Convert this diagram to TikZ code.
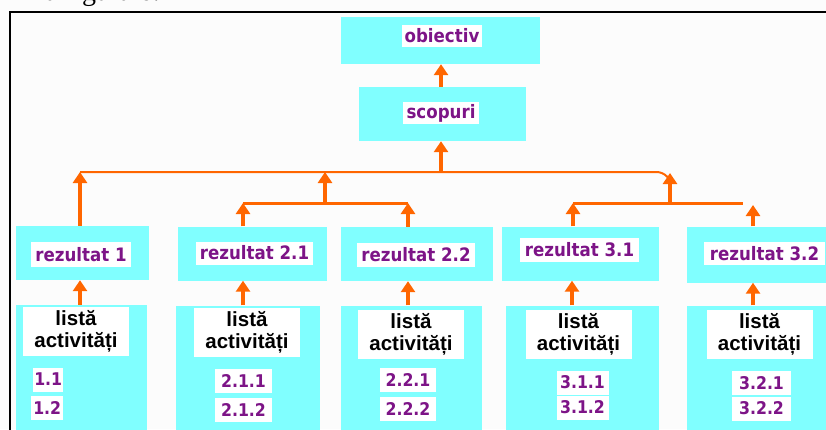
\documentclass[tikz,border=0pt]{standalone}
\usepackage{fontspec}
\setmainfont{Liberation Serif}
\newfontfamily\verd{DejaVu Sans}[FakeStretch=0.9]
\newfontfamily\arialb{Liberation Sans}
\usetikzlibrary{arrows.meta}

\definecolor{cyanfill}{RGB}{128,255,255}
\definecolor{labpurple}{RGB}{125,20,135}
\definecolor{arrorange}{RGB}{255,102,0}

\tikzset{
  cbox/.style={fill=cyanfill, draw=none, inner sep=0pt},
  plab/.style={fill=white, inner sep=0pt, text=labpurple,
               font=\verd\bfseries\fontsize{18.5}{20}\selectfont},
  numlab/.style={plab, minimum height=24pt, font=\verd\bfseries\fontsize{17.5}{19}\selectfont},
  listlab/.style={fill=white, inner sep=0pt, align=center, text=black,
                  minimum width=106pt, minimum height=49pt,
                  font=\arialb\bfseries\fontsize{20.5}{22}\selectfont},
  arr/.style={draw=arrorange, line width=3.2pt,
              -{Triangle[width=14pt,length=11pt]}},
  bar/.style={draw=arrorange, line width=3pt},
  thinbar/.style={draw=arrorange, line width=2pt}
}

\begin{document}
\begin{tikzpicture}[x=1pt,y=-1pt]
\useasboundingbox (0,0) rectangle (826,429);
\fill[white!99!black] (0,0) rectangle (826,429);

% caption line of the page above, cut by the frame
\node[anchor=base west, inner sep=0pt, font=\fontsize{28}{30}\selectfont] (cap) at (36,0.5) {ra figura 6.};

% outer frame
\draw[line width=2pt] (10,12) rectangle (832,436);

% top level
\node[cbox, minimum width=199pt, minimum height=47pt] (obj) at (440.5,40.5) {};
\node[plab, minimum width=80pt, minimum height=22pt] (objl) at (442,36) {obiectiv};
\node[cbox, minimum width=167pt, minimum height=54pt] (scp) at (442.5,114) {};
\node[plab, minimum width=76pt, minimum height=22pt] (scpl) at (441,113) {scopuri};

% results
\node[cbox, minimum width=133pt, minimum height=54pt] (r1)  at (82.5,253) {};
\node[cbox, minimum width=149pt, minimum height=54pt] (r21) at (252.5,253.5) {};
\node[cbox, minimum width=152pt, minimum height=54pt] (r22) at (417,254) {};
\node[cbox, minimum width=157pt, minimum height=54pt] (r31) at (580.5,253.5) {};
\node[cbox, minimum width=143pt, minimum height=56pt] (r32) at (758.5,254.5) {};

\node[plab, minimum width=100pt, minimum height=25pt] (r1l)  at (81,254.5) {rezultat 1};
\node[plab, minimum width=117pt, minimum height=23pt] (r21l) at (254.5,253) {rezultat 2.1};
\node[plab, minimum width=118pt, minimum height=24pt] (r22l) at (416,255) {rezultat 2.2};
\node[plab, minimum width=119pt, minimum height=24pt] (r31l) at (579.5,250) {rezultat 3.1};
\node[plab, minimum width=121pt, minimum height=23pt] (r32l) at (764.5,253.5) {rezultat 3.2};

% activity lists
\node[cbox, minimum width=131pt, minimum height=135pt] (l1)  at (81.5,372.5) {};
\node[cbox, minimum width=144pt, minimum height=135pt] (l21) at (248,373) {};
\node[cbox, minimum width=141pt, minimum height=135pt] (l22) at (411.5,373) {};
\node[cbox, minimum width=153pt, minimum height=135pt] (l31) at (582.5,373) {};
\node[cbox, minimum width=143pt, minimum height=135pt] (l32) at (758.5,373) {};

\node[listlab] (t1)  at (76,331.5)  {listă\\activități};
\node[listlab] (t21) at (247,332.5) {listă\\activități};
\node[listlab] (t22) at (411,334.5) {listă\\activități};
\node[listlab] (t31) at (578.5,334.5) {listă\\activități};
\node[listlab] (t32) at (759.5,334.5) {listă\\activități};

\node[numlab, minimum width=30pt, anchor=west] (n11) at (33,379.5) {1.1};
\node[numlab, minimum width=32pt, anchor=west] (n12) at (31,407.5) {1.2};
\node[numlab, minimum width=57pt] (n211) at (243.5,380.5) {2.1.1};
\node[numlab, minimum width=57pt] (n212) at (243.5,409.5) {2.1.2};
\node[numlab, minimum width=56pt] (n221) at (408,379.5) {2.2.1};
\node[numlab, minimum width=56pt] (n222) at (408,408.5) {2.2.2};
\node[numlab, minimum width=52pt] (n311) at (582.5,382.5) {3.1.1};
\node[numlab, minimum width=52pt] (n312) at (582.5,407.5) {3.1.2};
\node[numlab, minimum width=59pt] (n321) at (761.5,383) {3.2.1};
\node[numlab, minimum width=59pt] (n322) at (761.5,408.5) {3.2.2};

% junction points of the tree
\coordinate (j1)  at (80,172);
\coordinate (j2)  at (325,172);
\coordinate (j3)  at (670,173);
\coordinate (js)  at (441,172);
\coordinate (k2)  at (325,203);
\coordinate (k2l) at (243,203);
\coordinate (k2r) at (408,203);
\coordinate (k3)  at (670,203);
\coordinate (k3l) at (573,203);
\coordinate (k3r) at (743,203);
\coordinate (k3e) at (753,205);

% bars
\draw[thinbar, rounded corners=6pt] (j1) -- (663,172) -- (670,180);
\draw[bar] (k2l) -- (k2r);
\draw[bar] (k3l) -- (k3r);

% arrows between levels
\draw[arr] (scp.north -| 441,0) -- (obj.south -| 441,0);
\draw[arr] (js) -- (scp.south -| js);
\draw[arr] (r1.north -| j1) -- (j1);
\draw[arr] (k2) -- (j2);
\draw[arr] (k3) -- (j3);
\draw[arr] (r21.north -| k2l) -- (k2l);
\draw[arr] (r22.north -| k2r) -- (k2r);
\draw[arr] (r31.north -| k3l) -- (k3l);
\draw[arr] (r32.north -| k3e) -- (k3e);

% arrows from the lists to the results
\draw[arr] (l1.north -| 80,0)   -- (r1.south -| 80,0);
\draw[arr] (l21.north -| 243,0) -- (r21.south -| 243,0);
\draw[arr] (l22.north -| 408,0) -- (r22.south -| 408,0);
\draw[arr] (l31.north -| 572,0) -- (r31.south -| 572,0);
\draw[arr] (l32.north -| 753,0) -- (r32.south -| 753,0);
\end{tikzpicture}
\end{document}
